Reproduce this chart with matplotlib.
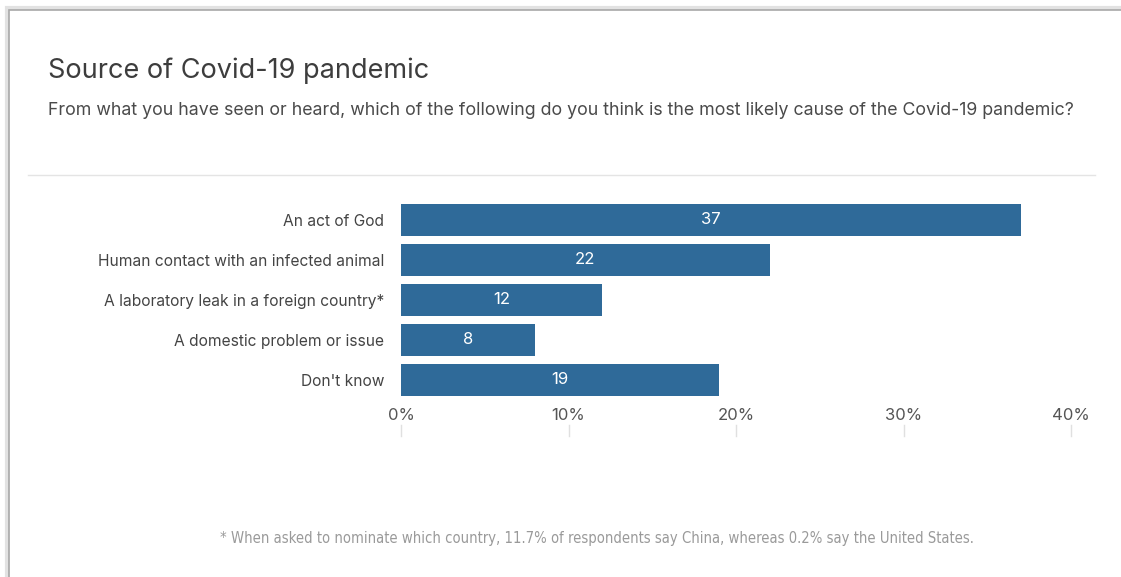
import matplotlib.pyplot as plt
from matplotlib.patches import Rectangle
from matplotlib.lines import Line2D
from matplotlib.transforms import blended_transform_factory

causes = ["An act of God",
          "Human contact with an infected animal",
          "A laboratory leak in a foreign country*",
          "A domestic problem or issue",
          "Don't know"]
shares = [37, 22, 12, 8, 19]
ticks = [0, 10, 20, 30, 40]
tick_labels = ["0%", "10%", "20%", "30%", "40%"]

W, H = 1121, 577
bar_color = "#2f6a99"
font = ["Inter", "DejaVu Sans"]

fig = plt.figure(figsize=(W / 100, H / 100), dpi=100)
fig.patch.set_facecolor("white")

# card frame with a soft edge
fig.patches.append(Rectangle((7 / W, -0.1), 1.2, (H - 8) / H + 0.1, transform=fig.transFigure,
                             facecolor="none", edgecolor="#e2e2e2", linewidth=3, zorder=-2))
fig.patches.append(Rectangle((9 / W, -0.1), 1.2, (H - 10) / H + 0.1, transform=fig.transFigure,
                             facecolor="white", edgecolor="#a8a8a8", linewidth=1.2, zorder=-1))

fig.text(48 / W, 1 - 71 / H, "Source of Covid-19 pandemic", fontsize=19.5, color="#3d3d3d",
         family=font, va="center", ha="left")
fig.text(48 / W, 1 - 111 / H,
         "From what you have seen or heard, which of the following do you think is the most likely cause of the Covid-19 pandemic?",
         fontsize=12.8, color="#4a4a4a", family=font, va="center", ha="left")
fig.lines.append(Line2D([28 / W, 1095 / W], [1 - 175 / H, 1 - 175 / H], transform=fig.transFigure,
                        color="#e4e4e4", linewidth=1))

ax = fig.add_axes([401 / W, 1 - 400 / H, 670 / W, 200 / H])
ax.set_zorder(2)
ax.patch.set_alpha(0)
ypos = list(range(len(causes)))
ax.barh(ypos, shares, height=0.82, color=bar_color, zorder=2)
ax.set_xlim(0, 40)
ax.set_ylim(len(causes) - 0.5, -0.5)

for y, v in zip(ypos, shares):
    ax.text(v / 2, y, str(v), ha="center", va="center", color="white", fontsize=12, family=font)

ax.set_yticks(ypos)
ax.set_yticklabels(causes, fontsize=11.2, color="#444444", family=font)
ax.tick_params(axis="y", length=0, pad=12)
for lbl in ax.get_yticklabels():
    lbl.set_verticalalignment("center_baseline")

ax.set_xticks(ticks)
ax.set_xticklabels(tick_labels, fontsize=12, color="#555555", family=font)
ax.tick_params(axis="x", length=0, pad=6)

# small marks under the tick labels
trans = blended_transform_factory(ax.transData, ax.transAxes)
for t in ticks:
    ax.plot([t, t], [-0.125, -0.18], transform=trans, color="#e0e0e0", linewidth=1, clip_on=False)

for s in ax.spines.values():
    s.set_visible(False)

fig.text(597 / W, 1 - 538 / H,
         "* When asked to nominate which country, 11.7% of respondents say China, whereas 0.2% say the United States.",
         fontsize=10.6, color="#9a9a9a", ha="center", va="center",
         family="DejaVu Sans", fontstretch="condensed")

fig.savefig("out.png", dpi=100, facecolor="white")
